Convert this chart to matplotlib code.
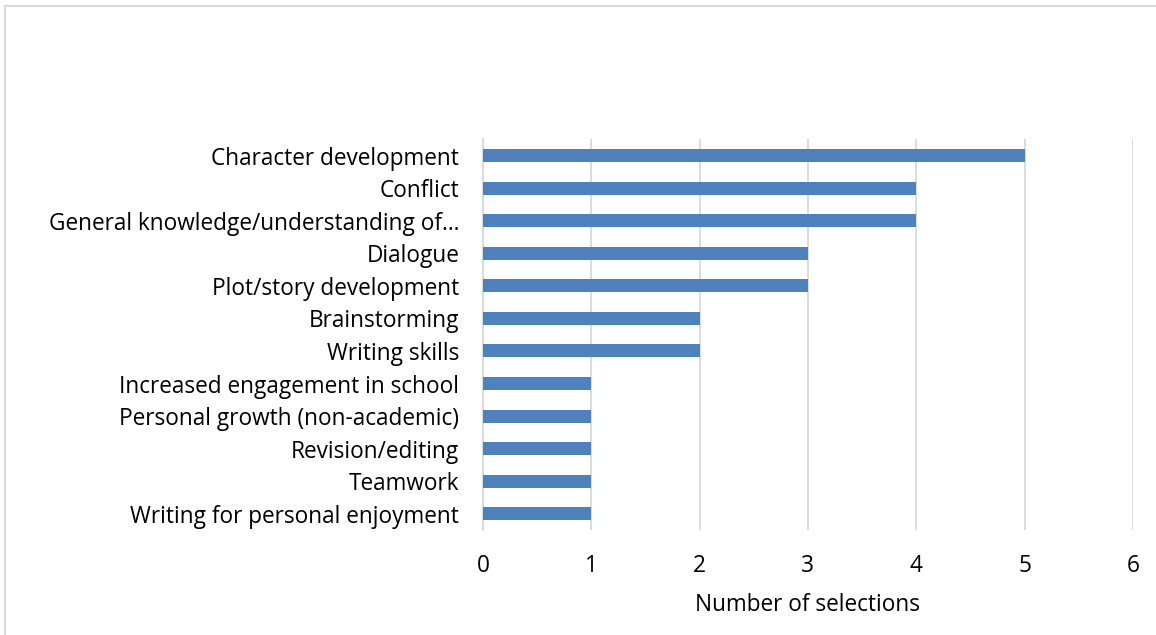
import matplotlib.pyplot as plt
from matplotlib.lines import Line2D

plt.rcParams['font.family'] = ['Open Sans', 'DejaVu Sans']

categories = [
    'Character development',
    'Conflict',
    'General knowledge/understanding of…',
    'Dialogue',
    'Plot/story development',
    'Brainstorming',
    'Writing skills',
    'Increased engagement in school',
    'Personal growth (non-academic)',
    'Revision/editing',
    'Teamwork',
    'Writing for personal enjoyment',
]
selections = [5, 4, 4, 3, 3, 2, 2, 1, 1, 1, 1, 1]
x_ticks = [0, 1, 2, 3, 4, 5, 6]

fig = plt.figure(figsize=(11.56, 6.35), dpi=100)
ax = fig.add_axes([0.4178, 0.1654, 0.5622, 0.615])

ypos = list(range(len(categories)))
ax.barh(ypos, selections, height=0.4, color='#4F81BD', zorder=3)
ax.set_ylim(len(categories) - 0.5, -0.5)
ax.set_yticks(ypos)
ax.set_yticklabels(categories, fontsize=16.3)
ax.set_xlim(0, 6)
ax.set_xticks(x_ticks)
ax.set_xticklabels([str(t) for t in x_ticks], fontsize=16.3)
ax.tick_params(axis='y', length=0, pad=17)
ax.tick_params(axis='x', length=0, pad=17)
ax.grid(axis='x', color='#D9D9D9', linewidth=1.3, zorder=0)
for side in ['top', 'right', 'bottom']:
    ax.spines[side].set_visible(False)
ax.spines['left'].set_color('#D9D9D9')
ax.spines['left'].set_linewidth(1.3)
ax.set_xlabel('Number of selections', fontsize=16.3, labelpad=11)

# chart area frame (top and left edges)
fig.add_artist(Line2D([0.004, 1.0], [0.99, 0.99], color='#D9D9D9', linewidth=1.5, transform=fig.transFigure))
fig.add_artist(Line2D([0.004, 0.004], [0.0, 0.99], color='#D9D9D9', linewidth=1.5, transform=fig.transFigure))

fig.savefig('out.png', dpi=100)
